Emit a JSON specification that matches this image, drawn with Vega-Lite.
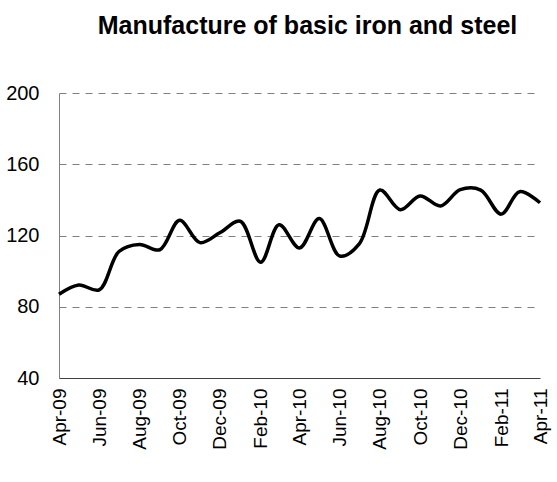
{
  "$schema": "https://vega.github.io/schema/vega-lite/v6.json",
  "width": 481,
  "height": 285,
  "autosize": {"type": "none"},
  "padding": {"left": 59, "top": 93, "right": 17, "bottom": 104},
  "background": "white",
  "title": {
    "text": "Manufacture of basic iron and steel",
    "font": "Liberation Sans",
    "fontWeight": "bold",
    "fontSize": 25,
    "color": "black",
    "anchor": "middle",
    "frame": "group",
    "offset": 44,
    "dx": 8
  },
  "config": {"view": {"stroke": null}},
  "data": {
    "values": [
      {"date": "2009-04-01", "value": 87},
      {"date": "2009-05-01", "value": 92.2},
      {"date": "2009-06-01", "value": 89.5},
      {"date": "2009-07-01", "value": 111},
      {"date": "2009-08-01", "value": 115},
      {"date": "2009-09-01", "value": 112},
      {"date": "2009-10-01", "value": 128.5},
      {"date": "2009-11-01", "value": 116},
      {"date": "2009-12-01", "value": 121.5},
      {"date": "2010-01-01", "value": 128},
      {"date": "2010-02-01", "value": 105},
      {"date": "2010-03-01", "value": 126},
      {"date": "2010-04-01", "value": 113},
      {"date": "2010-05-01", "value": 129.5},
      {"date": "2010-06-01", "value": 108.5},
      {"date": "2010-07-01", "value": 115.5},
      {"date": "2010-08-01", "value": 145.5},
      {"date": "2010-09-01", "value": 134.5},
      {"date": "2010-10-01", "value": 142.2},
      {"date": "2010-11-01", "value": 136.6},
      {"date": "2010-12-01", "value": 145.7},
      {"date": "2011-01-01", "value": 145.5},
      {"date": "2011-02-01", "value": 132},
      {"date": "2011-03-01", "value": 144.6},
      {"date": "2011-04-01", "value": 138.4}
    ]
  },
  "mark": {"type": "line", "interpolate": "catmull-rom", "color": "black", "strokeWidth": 3.5},
  "encoding": {
    "x": {
      "field": "date",
      "type": "temporal",
      "scale": {
        "type": "utc",
        "nice": false,
        "domain": [
          {"year": 2009, "month": 4, "date": 1, "utc": true},
          {"year": 2011, "month": 4, "date": 1, "utc": true}
        ]
      },
      "axis": {
        "title": null,
        "grid": false,
        "ticks": false,
        "format": "%b-%y",
        "labelAngle": -90,
        "labelAlign": "right",
        "labelBaseline": "middle",
        "labelPadding": 10,
        "labelFont": "Liberation Sans",
        "labelFontSize": 19,
        "labelColor": "black",
        "labelOverlap": false,
        "labelBound": false,
        "labelFlush": false,
        "domainColor": "#404040",
        "domainWidth": 1,
        "values": [
          {"year": 2009, "month": 4, "date": 1, "utc": true},
          {"year": 2009, "month": 6, "date": 1, "utc": true},
          {"year": 2009, "month": 8, "date": 1, "utc": true},
          {"year": 2009, "month": 10, "date": 1, "utc": true},
          {"year": 2009, "month": 12, "date": 1, "utc": true},
          {"year": 2010, "month": 2, "date": 1, "utc": true},
          {"year": 2010, "month": 4, "date": 1, "utc": true},
          {"year": 2010, "month": 6, "date": 1, "utc": true},
          {"year": 2010, "month": 8, "date": 1, "utc": true},
          {"year": 2010, "month": 10, "date": 1, "utc": true},
          {"year": 2010, "month": 12, "date": 1, "utc": true},
          {"year": 2011, "month": 2, "date": 1, "utc": true},
          {"year": 2011, "month": 4, "date": 1, "utc": true}
        ]
      }
    },
    "y": {
      "field": "value",
      "type": "quantitative",
      "scale": {"domain": [40, 200], "nice": false, "zero": false},
      "axis": {
        "title": null,
        "values": [40, 80, 120, 160, 200],
        "grid": true,
        "gridDash": [7, 6],
        "gridColor": "#808080",
        "gridWidth": 1,
        "ticks": false,
        "domainColor": "#808080",
        "labelFont": "Liberation Sans",
        "labelFontSize": 20,
        "labelColor": "black",
        "labelPadding": 20
      }
    }
  }
}
